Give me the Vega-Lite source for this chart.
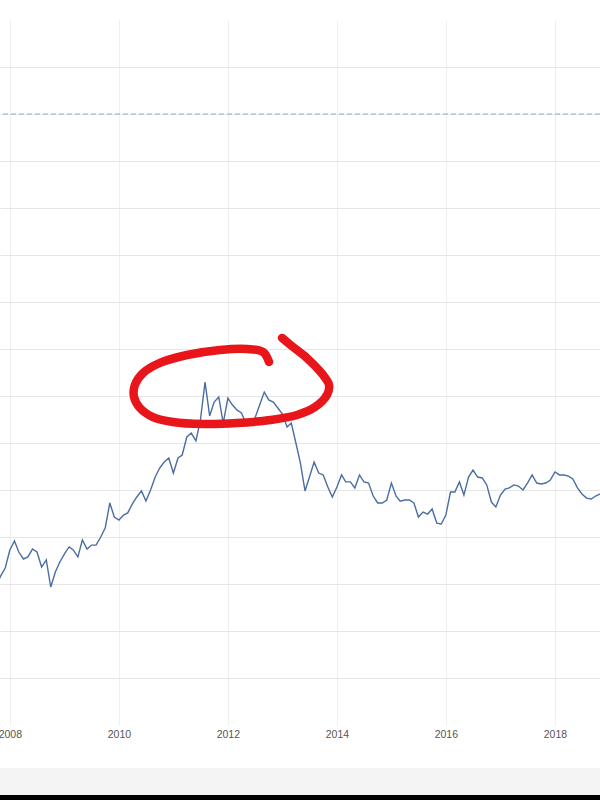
{
  "$schema": "https://vega.github.io/schema/vega-lite/v6.json",
  "width": 600,
  "height": 705,
  "autosize": {"type": "none"},
  "padding": {"top": 20, "left": 0, "right": 0, "bottom": 75},
  "background": "#ffffff",
  "config": {"view": {"stroke": null}},
  "datasets": {
    "gold": [
      {"date": "2007-10-01", "price": 745}, {"date": "2007-11-01", "price": 793}, {"date": "2007-12-01", "price": 835},
      {"date": "2008-01-01", "price": 931}, {"date": "2008-02-01", "price": 979}, {"date": "2008-03-01", "price": 920},
      {"date": "2008-04-01", "price": 883}, {"date": "2008-05-01", "price": 894}, {"date": "2008-06-01", "price": 936},
      {"date": "2008-07-01", "price": 920}, {"date": "2008-08-01", "price": 840}, {"date": "2008-09-01", "price": 878},
      {"date": "2008-10-01", "price": 734}, {"date": "2008-11-01", "price": 814}, {"date": "2008-12-01", "price": 867},
      {"date": "2009-01-01", "price": 910}, {"date": "2009-02-01", "price": 947}, {"date": "2009-03-01", "price": 931},
      {"date": "2009-04-01", "price": 894}, {"date": "2009-05-01", "price": 984}, {"date": "2009-06-01", "price": 936},
      {"date": "2009-07-01", "price": 957}, {"date": "2009-08-01", "price": 957}, {"date": "2009-09-01", "price": 1000},
      {"date": "2009-10-01", "price": 1048}, {"date": "2009-11-01", "price": 1181}, {"date": "2009-12-01", "price": 1106},
      {"date": "2010-01-01", "price": 1090}, {"date": "2010-02-01", "price": 1117}, {"date": "2010-03-01", "price": 1128},
      {"date": "2010-04-01", "price": 1176}, {"date": "2010-05-01", "price": 1213}, {"date": "2010-06-01", "price": 1245},
      {"date": "2010-07-01", "price": 1191}, {"date": "2010-08-01", "price": 1250}, {"date": "2010-09-01", "price": 1319},
      {"date": "2010-10-01", "price": 1367}, {"date": "2010-11-01", "price": 1399}, {"date": "2010-12-01", "price": 1420},
      {"date": "2011-01-01", "price": 1340}, {"date": "2011-02-01", "price": 1420}, {"date": "2011-03-01", "price": 1436},
      {"date": "2011-04-01", "price": 1532}, {"date": "2011-05-01", "price": 1553}, {"date": "2011-06-01", "price": 1511},
      {"date": "2011-07-01", "price": 1622}, {"date": "2011-08-01", "price": 1824}, {"date": "2011-09-01", "price": 1644},
      {"date": "2011-10-01", "price": 1718}, {"date": "2011-11-01", "price": 1745}, {"date": "2011-12-01", "price": 1606},
      {"date": "2012-01-01", "price": 1739}, {"date": "2012-02-01", "price": 1702}, {"date": "2012-03-01", "price": 1676},
      {"date": "2012-04-01", "price": 1660}, {"date": "2012-05-01", "price": 1606}, {"date": "2012-06-01", "price": 1606},
      {"date": "2012-07-01", "price": 1633}, {"date": "2012-08-01", "price": 1702}, {"date": "2012-09-01", "price": 1771},
      {"date": "2012-10-01", "price": 1729}, {"date": "2012-11-01", "price": 1718}, {"date": "2012-12-01", "price": 1686},
      {"date": "2013-01-01", "price": 1654}, {"date": "2013-02-01", "price": 1585}, {"date": "2013-03-01", "price": 1606},
      {"date": "2013-04-01", "price": 1500}, {"date": "2013-05-01", "price": 1394}, {"date": "2013-06-01", "price": 1245},
      {"date": "2013-07-01", "price": 1319}, {"date": "2013-08-01", "price": 1399}, {"date": "2013-09-01", "price": 1340},
      {"date": "2013-10-01", "price": 1330}, {"date": "2013-11-01", "price": 1266}, {"date": "2013-12-01", "price": 1213},
      {"date": "2014-01-01", "price": 1266}, {"date": "2014-02-01", "price": 1330}, {"date": "2014-03-01", "price": 1293},
      {"date": "2014-04-01", "price": 1293}, {"date": "2014-05-01", "price": 1261}, {"date": "2014-06-01", "price": 1330},
      {"date": "2014-07-01", "price": 1293}, {"date": "2014-08-01", "price": 1287}, {"date": "2014-09-01", "price": 1218},
      {"date": "2014-10-01", "price": 1181}, {"date": "2014-11-01", "price": 1181}, {"date": "2014-12-01", "price": 1197},
      {"date": "2015-01-01", "price": 1287}, {"date": "2015-02-01", "price": 1218}, {"date": "2015-03-01", "price": 1191},
      {"date": "2015-04-01", "price": 1197}, {"date": "2015-05-01", "price": 1197}, {"date": "2015-06-01", "price": 1181},
      {"date": "2015-07-01", "price": 1106}, {"date": "2015-08-01", "price": 1133}, {"date": "2015-09-01", "price": 1122},
      {"date": "2015-10-01", "price": 1149}, {"date": "2015-11-01", "price": 1074}, {"date": "2015-12-01", "price": 1069},
      {"date": "2016-01-01", "price": 1117}, {"date": "2016-02-01", "price": 1239}, {"date": "2016-03-01", "price": 1239},
      {"date": "2016-04-01", "price": 1293}, {"date": "2016-05-01", "price": 1223}, {"date": "2016-06-01", "price": 1319},
      {"date": "2016-07-01", "price": 1356}, {"date": "2016-08-01", "price": 1319}, {"date": "2016-09-01", "price": 1314},
      {"date": "2016-10-01", "price": 1277}, {"date": "2016-11-01", "price": 1186}, {"date": "2016-12-01", "price": 1160},
      {"date": "2017-01-01", "price": 1223}, {"date": "2017-02-01", "price": 1255}, {"date": "2017-03-01", "price": 1261},
      {"date": "2017-04-01", "price": 1277}, {"date": "2017-05-01", "price": 1271}, {"date": "2017-06-01", "price": 1250},
      {"date": "2017-07-01", "price": 1287}, {"date": "2017-08-01", "price": 1330}, {"date": "2017-09-01", "price": 1287},
      {"date": "2017-10-01", "price": 1282}, {"date": "2017-11-01", "price": 1287}, {"date": "2017-12-01", "price": 1303},
      {"date": "2018-01-01", "price": 1346}, {"date": "2018-02-01", "price": 1330}, {"date": "2018-03-01", "price": 1330},
      {"date": "2018-04-01", "price": 1324}, {"date": "2018-05-01", "price": 1309}, {"date": "2018-06-01", "price": 1261},
      {"date": "2018-07-01", "price": 1229}, {"date": "2018-08-01", "price": 1207}, {"date": "2018-09-01", "price": 1202},
      {"date": "2018-10-01", "price": 1218}, {"date": "2018-11-01", "price": 1229}
    ],
    "annotation": [
      {"i": 1, "date": "2012-10-03", "value": 1931},
      {"i": 2, "date": "2012-08-24", "value": 1984},
      {"i": 3, "date": "2012-05-09", "value": 2000},
      {"i": 4, "date": "2011-11-09", "value": 1995},
      {"i": 5, "date": "2011-04-02", "value": 1968},
      {"i": 6, "date": "2010-10-03", "value": 1926},
      {"i": 7, "date": "2010-06-11", "value": 1872},
      {"i": 8, "date": "2010-04-18", "value": 1809},
      {"i": 9, "date": "2010-04-12", "value": 1745},
      {"i": 10, "date": "2010-05-22", "value": 1686},
      {"i": 11, "date": "2010-08-17", "value": 1638},
      {"i": 12, "date": "2010-12-29", "value": 1612},
      {"i": 13, "date": "2011-07-18", "value": 1601},
      {"i": 14, "date": "2012-03-02", "value": 1606},
      {"i": 15, "date": "2012-10-10", "value": 1622},
      {"i": 16, "date": "2013-04-09", "value": 1649},
      {"i": 17, "date": "2013-08-07", "value": 1691},
      {"i": 18, "date": "2013-10-26", "value": 1755},
      {"i": 19, "date": "2013-11-09", "value": 1809},
      {"i": 20, "date": "2013-09-30", "value": 1862},
      {"i": 21, "date": "2013-06-14", "value": 1952},
      {"i": 22, "date": "2013-03-13", "value": 2011},
      {"i": 23, "date": "2012-12-29", "value": 2059}
    ],
    "frame": [
      {"start": "2007-10-27", "end": "2018-10-30", "top": -229, "bottom": -372, "part": "band"},
      {"start": "2007-10-27", "end": "2018-10-30", "top": -372, "bottom": -400, "part": "bar"}
    ],
    "ref": [{"level": 3250}]
  },
  "layer": [
    {
      "data": {"name": "frame"},
      "transform": [{"filter": "datum.part === 'band'"}],
      "mark": {"type": "rect", "color": "#f4f4f4", "clip": false},
      "encoding": {
        "x": {"field": "start", "type": "temporal"},
        "x2": {"field": "end"},
        "y": {"field": "top", "type": "quantitative"},
        "y2": {"field": "bottom"}
      }
    },
    {
      "data": {"name": "frame"},
      "transform": [{"filter": "datum.part === 'bar'"}],
      "mark": {"type": "rect", "color": "#000000", "clip": false},
      "encoding": {
        "x": {"field": "start", "type": "temporal"},
        "x2": {"field": "end"},
        "y": {"field": "top", "type": "quantitative"},
        "y2": {"field": "bottom"}
      }
    },
    {
      "data": {"name": "ref"},
      "mark": {"type": "rule", "color": "#8eabcc", "strokeWidth": 1, "strokeDash": [5, 3]},
      "encoding": {
        "y": {"field": "level", "type": "quantitative"}
      }
    },
    {
      "data": {"name": "gold"},
      "mark": {"type": "line", "color": "#4a6da3", "strokeWidth": 1.4, "clip": true},
      "encoding": {
        "x": {
          "field": "date",
          "type": "temporal",
          "title": null,
          "scale": {"domain": [{"year": 2007, "month": 10, "date": 27}, {"year": 2018, "month": 10, "date": 30}]},
          "axis": {
            "format": "%Y",
            "tickCount": {"interval": "year", "step": 2},
            "grid": true,
            "gridColor": "#efefef",
            "gridWidth": 1,
            "domain": false,
            "ticks": false,
            "tickSize": 0,
            "labelPadding": 4,
            "labelFont": "Liberation Sans",
            "labelFontSize": 10.5,
            "labelColor": "#555555",
            "labelFlush": false,
            "labelOverlap": false,
            "labelBound": false
          }
        },
        "y": {
          "field": "price",
          "type": "quantitative",
          "title": null,
          "scale": {"domain": [0, 3750], "nice": false, "zero": false},
          "axis": {
            "values": [250, 500, 750, 1000, 1250, 1500, 1750, 2000, 2250, 2500, 2750, 3000, 3250, 3500],
            "grid": true,
            "gridColor": "#e6e6e6",
            "gridWidth": 1,
            "domain": false,
            "ticks": false,
            "labels": false
          }
        }
      }
    },
    {
      "data": {"name": "annotation"},
      "mark": {"type": "line", "color": "#e8161b", "strokeWidth": 8.5, "strokeCap": "round", "strokeJoin": "round", "interpolate": "catmull-rom", "clip": false},
      "encoding": {
        "x": {"field": "date", "type": "temporal"},
        "y": {"field": "value", "type": "quantitative"},
        "order": {"field": "i", "type": "quantitative"}
      }
    }
  ]
}
